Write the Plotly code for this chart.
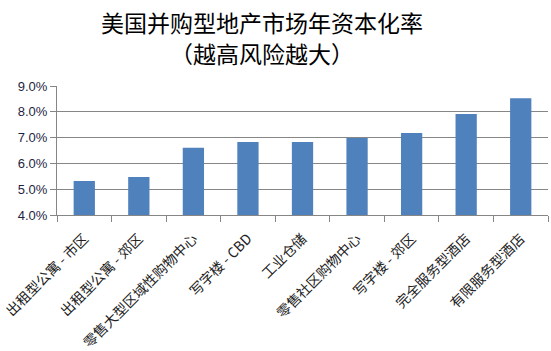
import plotly.graph_objects as go

categories = ["出租型公寓 - 市区", "出租型公寓 - 郊区", "零售大型区域性购物中心", "写字楼 - CBD",
              "工业仓储", "零售社区购物中心", "写字楼 - 郊区", "完全服务型酒店", "有限服务型酒店"]
values = [0.0532, 0.0547, 0.0661, 0.0683, 0.0683, 0.0698, 0.0718, 0.0791, 0.0853]
y_ticks = [0.04, 0.05, 0.06, 0.07, 0.08, 0.09]
y_tick_labels = ["4.0%", "5.0%", "6.0%", "7.0%", "8.0%", "9.0%"]
title_lines = ["美国并购型地产市场年资本化率", "（越高风险越大）"]

fig = go.Figure(go.Bar(x=categories, y=values, marker=dict(color="#4F81BD", line=dict(width=0)),
                       width=0.39))

L, R, T, B = 57, 3, 86, 136
title_y = [22, 53]
for txt, yy in zip(title_lines, title_y):
    fig.add_annotation(text=txt, xref="paper", yref="paper", x=(262 - L) / (551 - L - R),
                       y=1 + (T - yy) / (351 - T - B), xanchor="center", yanchor="middle",
                       showarrow=False,
                       font=dict(family="Noto Sans CJK SC", size=23, color="black"))

fig.update_layout(
    width=551, height=351,
    margin=dict(l=L, r=R, t=T, b=B),
    paper_bgcolor="white", plot_bgcolor="white",
    showlegend=False,
    xaxis=dict(showline=True, linecolor="#868686", linewidth=1, ticks="outside", ticklen=6,
               tickcolor="#868686", tickangle=-45, tickson="boundaries", automargin=False,
               ticklabelstandoff=9,
               tickfont=dict(family="Noto Sans CJK SC", size=14, color="#222222")),
    yaxis=dict(range=[0.04, 0.09], tickvals=y_ticks, ticktext=y_tick_labels, automargin=False,
               showline=True, linecolor="#868686", linewidth=1, ticks="outside", ticklen=6,
               tickcolor="#868686", showgrid=True, gridcolor="#868686", gridwidth=1,
               zeroline=False,
               tickfont=dict(family="Liberation Sans", size=13, color="#1F1F3F")),
    bargap=0.61,
)

fig.write_html("out.html")
